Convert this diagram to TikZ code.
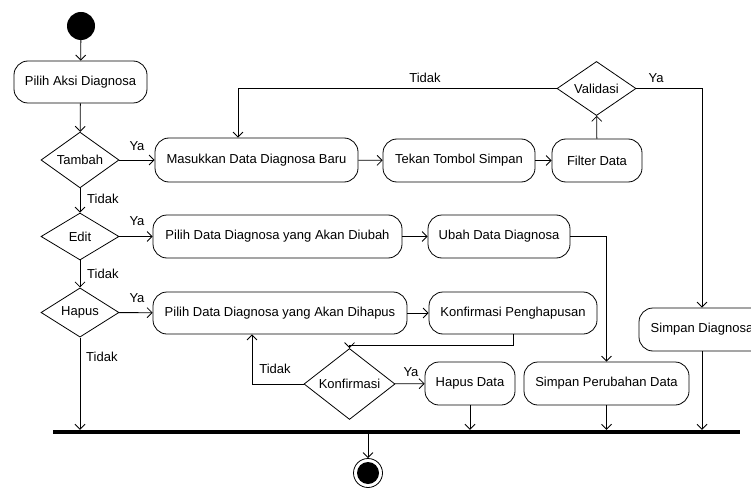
\documentclass[tikz,border=0pt]{standalone}
\usepackage{fontspec}
\setmainfont{Liberation Sans}
\usetikzlibrary{arrows.meta,shapes.geometric}

\begin{document}
\begin{tikzpicture}[x=1pt,y=-1pt,
  every node/.style={font=\fontsize{13}{15}\selectfont},
  act/.style={draw, line width=0.8pt, rounded corners=14pt, inner sep=0pt, minimum height=43pt},
  dec/.style={draw, line width=0.8pt, diamond, inner sep=0pt},
  arr/.style={line width=0.8pt, -{Straight Barb[length=5pt,width=10pt]}},
  lbl/.style={inner sep=0pt}
]
\useasboundingbox (0,0) rectangle (751,489);
\clip (0,0) rectangle (751,489);

% start / end markers
\node[circle, fill=black, minimum size=28pt, inner sep=0pt] (start) at (81,26) {};
\node[circle, draw, line width=0.8pt, minimum size=29pt, inner sep=0pt] (end) at (368,473) {};
\fill (end.center) circle (11pt);

% actions
\node[act, minimum width=133pt, minimum height=42pt] (pilih) at (80.5,82) {Pilih Aksi Diagnosa};
\node[act, minimum width=203pt, minimum height=44pt] (masuk) at (256.5,160) {Masukkan Data Diagnosa Baru};
\node[act, minimum width=152pt] (tekan) at (459,160.5) {Tekan Tombol Simpan};
\node[act, minimum width=90pt] (filter) at (597,160.5) {Filter Data};
\node[act, minimum width=126pt] (simpan) at (702,329.5) {Simpan Diagnosa};
\node[act, minimum width=249pt] (diubah) at (277.5,236.5) {Pilih Data Diagnosa yang Akan Diubah};
\node[act, minimum width=142pt] (ubah) at (499,236.5) {Ubah Data Diagnosa};
\node[act, minimum width=254pt, minimum height=42pt] (dihapus) at (280,313) {Pilih Data Diagnosa yang Akan Dihapus};
\node[act, minimum width=168pt, minimum height=42pt] (konfpeng) at (513,313) {Konfirmasi Penghapusan};
\node[act, minimum width=90pt] (hapusdata) at (470,383.5) {Hapus Data};
\node[act, minimum width=165pt] (simpanper) at (606.5,383.5) {Simpan Perubahan Data};

% decisions
\node[dec, minimum width=78pt, minimum height=46pt] (tambah) at (80,160) {Tambah};
\node[dec, minimum width=79pt, minimum height=47pt] (valid) at (596.5,88.5) {Validasi};
\node[dec, minimum width=78pt, minimum height=47pt] (edit) at (80,236.5) {Edit};
\node[dec, minimum width=78pt, minimum height=47pt] (hapus) at (80,312.5) {Hapus};
\node[dec, minimum width=91pt, minimum height=52pt] (konf) at (349.5,384) {Konfirmasi};

% join bar
\node[fill=black, minimum width=687pt, minimum height=4pt, inner sep=0pt] (bar) at (396.5,432) {};

% flows
\draw[arr] (start) -- (pilih);
\draw[arr] (pilih) -- (tambah);
\draw[arr] (tambah) -- (masuk);
\draw[arr] (masuk) -- (tekan);
\draw[arr] (tekan) -- (filter);
\draw[arr] (filter) -- (valid);
\draw[arr] (valid.west) -| ([xshift=-18.5pt]masuk.north);
\draw[arr] (valid.east) -| (simpan.north);
\draw[arr] (tambah) -- (edit);
\draw[arr] (edit) -- (diubah);
\draw[arr] (diubah) -- (ubah);
\draw[arr] (ubah.east) -| (simpanper.north);
\draw[arr] (edit) -- (hapus);
\draw[arr] (hapus) -- (dihapus);
\draw[arr] (dihapus) -- (konfpeng);
\draw[arr] (konfpeng.south) -- ++(0,11) -| (konf.north);
\draw[arr] (konf.west) -| ([xshift=-28pt]dihapus.south);
\draw[arr] (konf) -- (hapusdata);
\draw[arr] (hapus.south) -- (hapus.south |- bar.north);
\draw[arr] (hapusdata.south) -- (hapusdata.south |- bar.north);
\draw[arr] (simpanper.south) -- (simpanper.south |- bar.north);
\draw[arr] (simpan.south) -- (simpan.south |- bar.north);
\draw[arr] (end.north |- bar.south) -- (end.north);

% guard labels
\node[lbl] (lYa1) at (137,146) {Ya};
\node[lbl] (lYa2) at (137,221) {Ya};
\node[lbl] (lYa3) at (137,298) {Ya};
\node[lbl, anchor=west] (lT1) at (87,199) {Tidak};
\node[lbl, anchor=west] (lT2) at (87,274) {Tidak};
\node[lbl, anchor=west] (lT3) at (86,357) {Tidak};
\node[lbl] (lT4) at (425,78) {Tidak};
\node[lbl] (lYa4) at (656,78) {Ya};
\node[lbl] (lT5) at (275,369) {Tidak};
\node[lbl] (lYa5) at (411,372) {Ya};
\end{tikzpicture}
\end{document}
